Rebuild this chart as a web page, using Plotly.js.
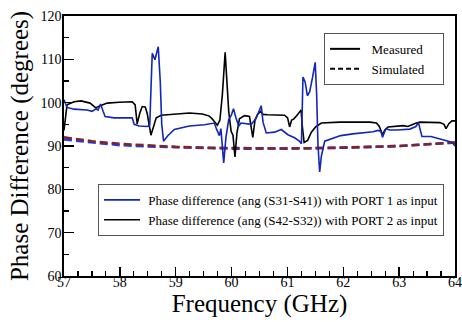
<!DOCTYPE html>
<html>
<head>
<meta charset="utf-8">
<script src="https://cdn.plot.ly/plotly-3.0.1.min.js"></script>
<style>html,body{margin:0;padding:0;background:#fff;}#chart{width:462px;height:322px;}</style>
</head>
<body>
<div id="chart"></div>
<script>
// Measured, PORT 2 as input: Phase difference (ang(S42-S32)) - black
const freqPort2 = [57.000,57.054,57.180,57.305,57.467,57.569,57.628,57.682,57.772,57.987,58.221,58.274,58.310,58.355,58.400,58.454,58.490,58.556,58.616,58.651,58.741,58.921,59.244,59.477,59.603,59.657,59.746,59.791,59.836,59.885,59.917,59.949,59.992,60.025,60.061,60.096,60.141,60.231,60.321,60.348,60.380,60.420,60.464,60.518,60.563,60.644,60.949,61.003,61.039,61.075,61.111,61.165,61.200,61.245,61.263,61.299,61.362,61.428,61.505,61.608,61.936,62.475,62.595,62.645,62.703,62.744,62.803,62.924,63.072,63.157,63.283,63.372,63.731,63.803,63.839,63.893,63.947,64.000];
const phasePort2 = [93.6,99.5,100.2,100.4,99.9,98.8,99.2,99.5,99.9,100.1,100.2,99.5,95.1,97.5,99.1,99.0,97.5,92.5,95.0,96.5,97.1,97.3,97.6,97.4,96.9,96.2,94.8,96.0,102.0,111.6,104.0,98.0,93.4,92.5,87.5,93.0,96.3,97.0,96.8,94.5,92.0,96.0,97.3,98.0,97.3,97.2,97.1,96.5,94.4,96.0,96.2,97.0,97.6,98.3,95.0,90.8,91.3,93.2,94.4,95.3,95.5,95.5,95.3,94.5,92.6,93.7,94.4,94.6,94.7,94.5,95.2,95.5,95.4,95.0,94.0,95.2,95.8,95.8];

// Measured, PORT 1 as input: Phase difference (ang(S31-S41)) - blue
const freqPort1 = [57.000,57.054,57.180,57.413,57.503,57.574,57.610,57.655,57.700,57.736,57.897,58.221,58.257,58.346,58.490,58.535,58.562,58.580,58.628,58.687,58.723,58.750,58.782,58.854,58.975,59.244,59.513,59.639,59.692,59.728,59.782,59.809,59.859,59.899,59.949,59.998,60.034,60.078,60.129,60.168,60.231,60.351,60.437,60.531,60.563,60.621,60.770,60.890,61.008,61.128,61.218,61.251,61.278,61.317,61.357,61.398,61.452,61.497,61.523,61.547,61.577,61.608,61.667,61.757,61.954,62.170,62.367,62.534,62.618,62.672,62.703,62.762,62.834,62.960,63.193,63.300,63.345,63.372,63.408,63.570,63.785,63.911,63.965,64.000];
const phasePort1 = [100.7,98.9,98.5,98.3,98.0,98.6,98.3,99.7,98.0,96.8,96.5,96.5,95.0,94.6,94.5,94.8,105.0,111.4,109.9,112.9,105.0,95.0,91.1,92.3,93.8,94.6,94.9,95.1,95.3,94.0,92.4,94.0,86.1,92.0,96.1,97.2,98.6,96.5,94.6,95.3,95.2,95.0,96.3,99.3,95.5,93.0,93.2,93.8,92.6,91.9,91.1,90.5,105.9,104.8,101.6,102.5,106.0,109.3,102.0,90.3,84.0,87.7,91.1,91.5,92.4,92.8,93.0,93.3,93.6,93.4,92.0,94.0,93.7,93.7,93.9,94.5,95.4,94.0,92.2,92.2,91.5,91.0,90.6,90.0];

// Simulated
const freqSim = [57.0,57.5,58.0,58.5,59.0,59.5,60.0,60.5,61.0,61.5,62.0,62.5,63.0,63.5,64.0];
const simPort1 = [91.5,90.8,90.2,89.9,89.7,89.5,89.4,89.4,89.4,89.5,89.6,89.8,90.0,90.4,90.8];
const simPort2 = [92.0,91.1,90.5,90.1,89.8,89.6,89.5,89.4,89.4,89.5,89.6,89.8,90.0,90.4,90.8];

const legendMain = ["Measured", "Simulated"];
const legendPorts = ["Phase difference (ang (S31-S41)) with PORT 1 as input",
                     "Phase difference (ang (S42-S32)) with PORT 2 as input"];

const FONT = "Liberation Serif";
const BLUE = "#1226b8";
const SIMBLUE = "#1f3cff";
const SIMRED = "#7e2626";
const PAD = "\u00a0\u00a0";
const PAD1 = "\u00a0";

const traces = [
  {x: freqSim, y: simPort1, mode: "lines", line: {color: SIMBLUE, width: 2.6, dash: "8px,4px"}, showlegend: false, hoverinfo: "skip"},
  {x: freqSim, y: simPort2, mode: "lines", line: {color: SIMRED, width: 2.6, dash: "8px,4px"}, showlegend: false, hoverinfo: "skip"},
  {x: freqPort2, y: phasePort2, mode: "lines", name: PAD1 + legendPorts[1], line: {color: "#000", width: 1.6}, legend: "legend2", legendrank: 2},
  {x: freqPort1, y: phasePort1, mode: "lines", name: PAD1 + legendPorts[0], line: {color: BLUE, width: 1.6}, legend: "legend2", legendrank: 1},
  {x: [null], y: [null], mode: "lines", name: PAD + legendMain[0] + PAD + PAD, line: {color: "#000", width: 2}, legend: "legend"},
  {x: [null], y: [null], mode: "lines", name: PAD + legendMain[1] + PAD + PAD, line: {color: "#000", width: 2.2, dash: "5px,3px"}, legend: "legend"}
];

const layout = {
  width: 462, height: 322,
  margin: {l: 64, r: 7, t: 16, b: 46},
  paper_bgcolor: "#fff", plot_bgcolor: "#fff",
  font: {family: FONT, color: "#000", size: 14},
  showlegend: true,
  xaxis: {
    range: [57, 64], dtick: 1, tick0: 57,
    ticks: "inside", ticklen: 9, tickwidth: 1.5, tickcolor: "#000",
    minor: {dtick: 0.25, ticks: "inside", ticklen: 5, tickwidth: 1.2, tickcolor: "#000"},
    showline: true, linecolor: "#000", linewidth: 1.6, mirror: true,
    showgrid: false, zeroline: false,
    tickfont: {family: FONT, size: 14, color: "#000"},
    ticklabelstandoff: -7,
    title: {text: "Frequency (GHz)", font: {family: FONT, size: 25, color: "#000"}, standoff: 3}
  },
  yaxis: {
    range: [60, 120], dtick: 10, tick0: 60,
    ticks: "inside", ticklen: 10, tickwidth: 1.5, tickcolor: "#000",
    minor: {dtick: 5, ticks: "inside", ticklen: 5, tickwidth: 1.2, tickcolor: "#000"},
    showline: true, linecolor: "#000", linewidth: 1.6, mirror: true,
    showgrid: false, zeroline: false,
    tickfont: {family: FONT, size: 14, color: "#000"},
    ticklabelstandoff: -2,
    title: {text: "Phase Difference (degrees)", font: {family: FONT, size: 25, color: "#000"}, standoff: 5}
  },
  legend: {
    x: 0.972, xanchor: "right", y: 0.935, yanchor: "top",
    bgcolor: "#fff", bordercolor: "#555", borderwidth: 1,
    font: {family: FONT, size: 13, color: "#000"}, traceorder: "normal"
  },
  legend2: {
    x: 0.087, xanchor: "left", y: 0.354, yanchor: "top",
    bgcolor: "#fff", bordercolor: "#555", borderwidth: 1, itemwidth: 36,
    font: {family: FONT, size: 13, color: "#000"}
  }
};

Plotly.newPlot("chart", traces, layout, {staticPlot: true, displayModeBar: false});
</script>
</body>
</html>
